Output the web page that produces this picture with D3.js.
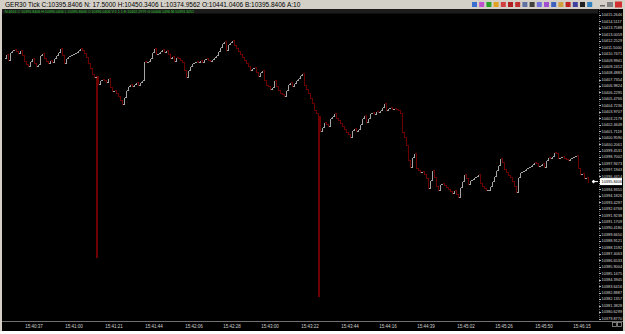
<!DOCTYPE html>
<html>
<head>
<meta charset="utf-8">
<script src="https://cdn.jsdelivr.net/npm/d3@7"></script>
<style>
  body { margin: 0; background: #ffffff; }
  svg { display: block; }
</style>
</head>
<body>
<div id="chart"></div>
<script>
// Tick closes left to right
var closes = [
  10410.23, 10410.70, 10410.00, 10410.93, 10411.17, 10411.28, 10411.05, 10410.82, 10411.17, 10410.58,
  10409.88, 10409.53, 10409.30, 10409.88, 10410.23, 10409.65, 10409.30, 10409.53, 10410.58, 10410.82,
  10410.23, 10409.88, 10409.65, 10410.00, 10409.76, 10410.23, 10410.58, 10410.93, 10411.40, 10410.58,
  10409.65, 10410.23, 10410.46, 10410.58, 10410.70, 10410.82, 10410.93, 10411.17, 10411.40, 10411.17,
  10410.82, 10410.35, 10409.65, 10409.06, 10408.36, 10408.01,
  10408.13, 10407.20, 10407.66, 10407.78, 10407.66, 10407.43, 10407.90, 10406.85, 10406.38, 10406.50,
  10406.15, 10405.80, 10405.33, 10404.86, 10405.68, 10406.50, 10406.96, 10407.20, 10406.96, 10407.20,
  10407.43, 10407.08, 10407.43, 10407.66,
  10409.88, 10409.76, 10409.88, 10410.23, 10410.93, 10411.40, 10410.70, 10410.82, 10411.05, 10411.28,
  10410.93, 10411.17, 10410.70, 10410.23, 10410.46, 10409.88, 10410.35, 10410.23, 10410.00, 10409.76,
  10408.83, 10408.01, 10408.83, 10409.30, 10409.65, 10409.76, 10409.88, 10409.76, 10410.00, 10409.76,
  10410.11, 10410.23, 10410.00, 10409.88, 10410.11, 10410.35, 10410.58, 10411.05, 10411.52, 10411.98,
  10412.21, 10411.17, 10411.87, 10412.10, 10412.33, 10411.75, 10411.40, 10411.05, 10410.70, 10410.35,
  10410.00, 10409.65, 10409.30, 10408.83, 10409.06, 10409.18, 10408.60, 10408.13, 10408.60, 10408.83,
  10407.66, 10407.08, 10406.96, 10406.61, 10406.85, 10407.66, 10406.96, 10406.50, 10406.15, 10406.03,
  10405.80, 10406.50, 10407.20, 10407.43, 10406.96, 10407.31, 10407.66, 10407.90, 10408.25, 10408.48,
  10407.08, 10406.61, 10406.15, 10405.56, 10404.98, 10404.16, 10403.81, 10403.46,
  10401.71, 10402.18, 10402.76, 10402.53, 10402.30, 10403.23, 10403.46, 10403.81, 10403.23, 10403.00,
  10402.65, 10402.30, 10401.95, 10401.60, 10401.36, 10401.01, 10401.83, 10402.06, 10401.71, 10401.95,
  10402.53, 10403.23, 10403.58, 10402.76, 10403.23, 10403.81, 10403.93, 10403.70, 10404.05, 10403.93,
  10404.16, 10404.51, 10404.98, 10404.16, 10404.40, 10404.51, 10404.28, 10404.40, 10404.28, 10404.16,
  10403.81,
  10401.60, 10401.01, 10400.08, 10398.33, 10397.51, 10398.68, 10399.15, 10397.39, 10397.16, 10396.93,
  10397.04, 10396.69, 10396.23, 10395.06, 10395.99, 10397.16, 10396.34, 10395.29, 10394.83, 10395.53,
  10395.64, 10395.41, 10395.18, 10394.94, 10394.71, 10394.48, 10394.83, 10394.36, 10394.01, 10395.18,
  10395.88, 10396.69, 10396.23, 10395.53, 10395.99, 10396.11, 10396.34, 10396.46, 10396.69, 10395.64,
  10395.29, 10395.06, 10394.83, 10394.83, 10395.29, 10395.88, 10396.46, 10397.16, 10397.74, 10398.56,
  10398.09, 10397.28, 10396.93, 10396.58, 10396.34, 10395.88, 10395.29, 10394.59, 10396.34, 10396.93,
  10397.04, 10397.16, 10397.39, 10397.51, 10397.63, 10397.86, 10398.09, 10397.98, 10397.63, 10397.74,
  10397.98, 10397.51, 10398.33, 10398.68, 10398.56, 10398.79, 10399.26, 10399.15, 10398.56, 10398.68,
  10398.79, 10398.56, 10398.44, 10398.33, 10398.56, 10398.68, 10398.79, 10398.91, 10397.39, 10396.69,
  10396.81, 10396.23, 10396.34, 10395.84
];

// Two ticks with a long low wick
var spikeIndex = [46, 157];
var spikeLow = [10386.89, 10382.34];

var priceLabels = [
  "10415.2646", "10414.5117", "10413.7588", "10413.0059", "10412.2529", "10411.5000",
  "10410.7471", "10409.9941", "10409.2412", "10408.4883", "10407.7354", "10406.9824",
  "10406.2295", "10405.4766", "10404.7236", "10403.9707", "10403.2178", "10402.4648",
  "10401.7119", "10400.9590", "10400.2061", "10399.4531", "10398.7002", "10397.9473",
  "10397.1943", "10396.4414", "10395.6885", "10394.9355", "10394.1826", "10393.4297",
  "10392.6768", "10391.9238", "10391.1709", "10390.4180", "10389.6650", "10388.9121",
  "10388.1592", "10387.4063", "10386.6533", "10385.9004", "10385.1475", "10384.3945",
  "10383.6416", "10382.8887", "10382.1357", "10381.3828", "10380.6299", "10379.8770"
];

var timeLabels = ["15:40:37", "15:41:00", "15:41:21", "15:41:44", "15:42:06", "15:42:28", "15:43:00",
  "15:43:22", "15:43:44", "15:44:16", "15:44:39", "15:45:02", "15:45:26", "15:45:50", "15:46:15"];
var timeIndex = [15, 35, 55, 75, 95, 114, 133, 153, 173, 192, 211, 231, 250, 270, 289];

var lastPrice = 10395.8406;
var headerText = "GER30  Tick  C:10395.8406  N: 17.5000  H:10450.3406  L:10374.9562  O:10441.0406  B:10395.8406  A:10";
var infoText = "N:4616  C:10395.8406  H:10396.0406  L:10395.8406  O:10396.0406  V:1 1 1  E:10402.2979  G:10406.1496  M:10393.3051";
var iconColors = ["#3a6fd0", "#c04fd0", "#2aa02a", "#e0a020", "#d04040", "#b02020", "#c03030", "#6070a0",
  "#404040", "#7070e0", "#a050d0", "#4060c0", "#d0a040", "#c02020", "#4040a0", "#202020", "#3080c0"];

var width = 625, height = 334;

var svg = d3.select("#chart").append("svg")
  .attr("width", width)
  .attr("height", height)
  .style("font-family", "'Liberation Sans', Arial, sans-serif");

// window frame
svg.append("rect").attr("width", width).attr("height", height).attr("fill", "#d4d0c8");
svg.append("rect").attr("x", 0).attr("y", 331).attr("width", width).attr("height", 3).attr("fill", "#ffffff");
svg.append("rect").attr("x", 2).attr("y", 9).attr("width", 621).attr("height", 322).attr("fill", "#000000");
svg.append("rect").attr("x", 2).attr("y", 9).attr("width", 596).attr("height", 4.5).attr("fill", "#1c1c1c");

// title bar text
svg.append("text")
  .attr("x", 5).attr("y", 7)
  .attr("font-size", "6.5px")
  .attr("fill", "#000")
  .text(headerText);

svg.append("text")
  .attr("x", 5).attr("y", 12.8)
  .attr("font-size", "3.6px")
  .attr("fill", "#30c030")
  .text(infoText);

// toolbar icons
svg.selectAll(".icon")
  .data(iconColors)
  .enter()
  .append("rect")
  .attr("x", function(d, i) { return 472 + i * 7.2; })
  .attr("y", 2)
  .attr("width", 5)
  .attr("height", 5)
  .attr("fill", function(d) { return d; });
svg.append("rect").attr("x", 600).attr("y", 5).attr("width", 5).attr("height", 1.5).attr("fill", "#606060");
svg.append("rect").attr("x", 607).attr("y", 2).attr("width", 6).attr("height", 5).attr("fill", "#808080");
svg.append("rect").attr("x", 615).attr("y", 1.5).attr("width", 7).attr("height", 6).attr("fill", "#d03030");

// scales
var xScale = d3.scaleLinear()
  .domain([0, closes.length - 1])
  .range([4, 588]);

var yScale = d3.scaleLinear()
  .domain([10379.877, 10415.2646])
  .range([318.5, 15]);

var chartGroup = svg.append("g").attr("shape-rendering", "crispEdges");

// spikes (long wicks)
chartGroup.selectAll(".spike")
  .data(spikeIndex)
  .enter()
  .append("line")
  .attr("x1", function(d) { return Math.round(xScale(d)) + 0.5; })
  .attr("x2", function(d) { return Math.round(xScale(d)) + 0.5; })
  .attr("y1", function(d) { return yScale(closes[d]); })
  .attr("y2", function(d, i) { return yScale(spikeLow[i]); })
  .attr("stroke", "#700000")
  .attr("stroke-width", 2);

// tick steps: dark red when the tick is lower, grey otherwise
var steps = [];
for (var i = 1; i < closes.length; i++) {
  steps.push([i - 1, i]);
}
chartGroup.selectAll(".step")
  .data(steps)
  .enter()
  .append("path")
  .attr("d", function(d) {
    var x0 = Math.round(xScale(d[0])) + 0.5, x1 = Math.round(xScale(d[1])) + 0.5;
    var y0 = Math.round(yScale(closes[d[0]])) + 0.5, y1 = Math.round(yScale(closes[d[1]])) + 0.5;
    return "M" + x0 + "," + y0 + "H" + x1 + "V" + y1;
  })
  .attr("fill", "none")
  .attr("stroke", function(d) {
    return closes[d[1]] < closes[d[0]] ? "#6a0000" : "#a4a4a4";
  })
  .attr("stroke-width", 1);

// right price axis
svg.append("line")
  .attr("x1", 599.5).attr("x2", 599.5)
  .attr("y1", 9).attr("y2", 322)
  .attr("stroke", "#606060")
  .attr("stroke-dasharray", "1,1");

var lastY = yScale(lastPrice);
var priceAxis = svg.append("g");
priceAxis.selectAll("text")
  .data(priceLabels.filter(function(d) { return Math.abs(yScale(+d) - lastY) > 4; }))
  .enter()
  .append("text")
  .attr("x", 601.5)
  .attr("y", function(d) { return yScale(+d); })
  .attr("dy", "0.35em")
  .attr("font-size", "3.9px")
  .attr("fill", "#d8d8d8")
  .text(function(d) { return d; });
priceAxis.selectAll("line")
  .data(priceLabels)
  .enter()
  .append("line")
  .attr("x1", 599).attr("x2", 601)
  .attr("y1", function(d) { return Math.round(yScale(+d)) + 0.5; })
  .attr("y2", function(d) { return Math.round(yScale(+d)) + 0.5; })
  .attr("stroke", "#bbbbbb");

// current price marker
svg.append("rect")
  .attr("x", 600).attr("y", lastY - 3.5)
  .attr("width", 22).attr("height", 7)
  .attr("fill", "#ffffff");
svg.append("text")
  .attr("x", 601.5).attr("y", lastY)
  .attr("dy", "0.35em")
  .attr("font-size", "3.9px")
  .attr("fill", "#000")
  .text(lastPrice.toFixed(4));
svg.append("path")
  .attr("d", "M592," + lastY + "H598M592," + lastY + "l2,-1.5v3z")
  .attr("stroke", "#ffffff")
  .attr("fill", "#ffffff")
  .attr("stroke-width", 1);

// bottom time axis
svg.append("line")
  .attr("x1", 2).attr("x2", 623)
  .attr("y1", 321.5).attr("y2", 321.5)
  .attr("stroke", "#707070");

var timeAxis = svg.append("g");
timeAxis.selectAll("text")
  .data(timeLabels)
  .enter()
  .append("text")
  .attr("x", function(d, i) { return xScale(timeIndex[i]); })
  .attr("y", 327.5)
  .attr("text-anchor", "middle")
  .attr("font-size", "4.5px")
  .attr("fill", "#d0d0d0")
  .text(function(d) { return d; });

// corner boxes
svg.append("rect").attr("x", 612.5).attr("y", 322.5).attr("width", 4).attr("height", 4)
  .attr("fill", "none").attr("stroke", "#909090").attr("stroke-width", 0.8);
svg.append("rect").attr("x", 617.5).attr("y", 322.5).attr("width", 4).attr("height", 4)
  .attr("fill", "none").attr("stroke", "#909090").attr("stroke-width", 0.8);
</script>
</body>
</html>
